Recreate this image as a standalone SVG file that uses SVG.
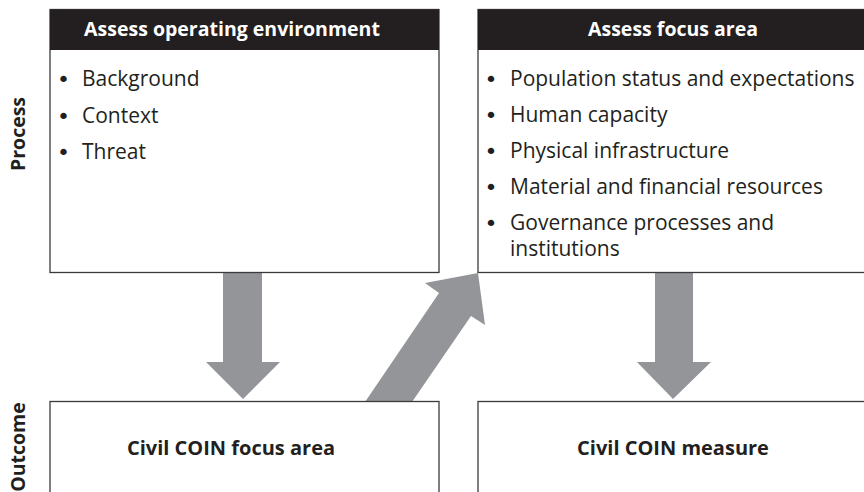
<svg xmlns="http://www.w3.org/2000/svg" width="864" height="492" viewBox="0 0 864 492">
<style>
.box{fill:#fff;stroke:#3a3a3c;stroke-width:1.3}
.hdr{fill:#231f20}
.ht{font-family:"Open Sans","DejaVu Sans",sans-serif;font-weight:bold;font-size:19.5px;fill:#fff;text-anchor:middle}
.it{font-family:"Open Sans","DejaVu Sans",sans-serif;font-size:21px;fill:#231f20}
.bu{font-family:"DejaVu Sans",sans-serif;font-size:22px;fill:#231f20;text-anchor:middle}
.bt{font-family:"Open Sans","DejaVu Sans",sans-serif;font-weight:bold;font-size:20px;fill:#231f20;text-anchor:middle}
.side{font-family:"Open Sans","DejaVu Sans",sans-serif;font-weight:bold;font-size:19.5px;fill:#231f20;text-anchor:middle}
.arr{fill:#939598}
</style>
<rect width="864" height="492" fill="#fff"/>
<text class="side" transform="translate(25,134) rotate(-90)">Process</text>
<text class="side" transform="translate(25,447) rotate(-90)">Outcome</text>
<g id="connectors">
<polygon class="arr" points="223,272 262,272 262,362 280,362 243,399 206,362 223,362"/>
<polygon class="arr" points="655,272 693,272 693,362 711,362 673,399 637,362 655,362"/>
<polygon class="arr" points="365,402 412,402 471,316 485,325 478,273 425,283 439,293"/>
</g>
<g id="assess-operating-environment">
<rect class="box" x="50" y="9.5" width="389" height="263"/>
<rect class="hdr" x="50" y="9.5" width="389" height="40.5"/>
<text class="ht" x="232" y="35.5">Assess operating environment</text>
<text class="bu" x="63.5" y="87">•</text><text class="it" x="82" y="86">Background</text>
<text class="bu" x="63.5" y="123.5">•</text><text class="it" x="82" y="122.5">Context</text>
<text class="bu" x="63.5" y="160">•</text><text class="it" x="82" y="159">Threat</text>
</g>
<g id="assess-focus-area">
<rect class="box" x="478" y="9.5" width="392" height="263"/>
<rect class="hdr" x="478" y="9.5" width="392" height="40.5"/>
<text class="ht" x="673" y="35.5">Assess focus area</text>
<text class="bu" x="491" y="86.5">•</text><text class="it" x="510" y="85.5">Population status and expectations</text>
<text class="bu" x="491" y="123">•</text><text class="it" x="510" y="122">Human capacity</text>
<text class="bu" x="491" y="159">•</text><text class="it" x="510" y="158">Physical infrastructure</text>
<text class="bu" x="491" y="195">•</text><text class="it" x="510" y="194">Material and financial resources</text>
<text class="bu" x="491" y="231">•</text><text class="it" x="510" y="230">Governance processes and</text>
<text class="it" x="510" y="256">institutions</text>
</g>
<g id="civil-coin-focus-area">
<rect class="box" x="50" y="401.5" width="389" height="110"/>
<text class="bt" x="231" y="455">Civil COIN focus area</text>
</g>
<g id="civil-coin-measure">
<rect class="box" x="478" y="401.5" width="392" height="110"/>
<text class="bt" x="673" y="455">Civil COIN measure</text>
</g>
</svg>
